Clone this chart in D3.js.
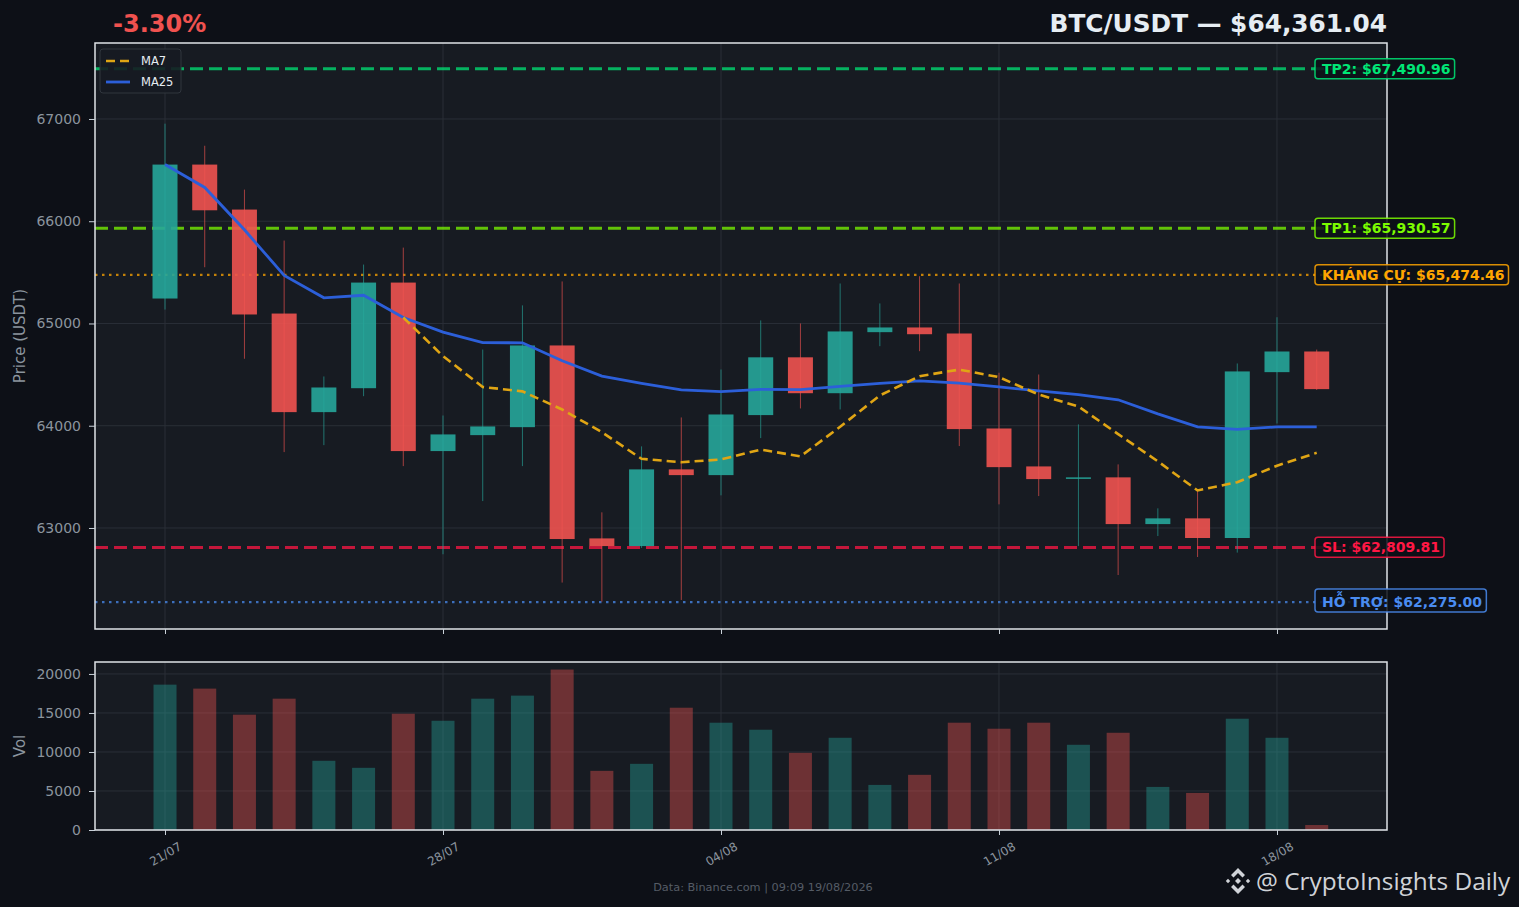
<!DOCTYPE html>
<html>
<head>
<meta charset="utf-8">
<script src="https://cdn.jsdelivr.net/npm/d3@7"></script>
<style>
  body { margin: 0; background: #0d1017; }
  svg { display: block; font-family: "DejaVu Sans", sans-serif; }
</style>
</head>
<body>
<div class="board"></div>
<script>
// daily candles, 21/07 -> 19/08
var dates = ['2026-07-21','2026-07-22','2026-07-23','2026-07-24','2026-07-25','2026-07-26','2026-07-27',
  '2026-07-28','2026-07-29','2026-07-30','2026-07-31','2026-08-01','2026-08-02','2026-08-03',
  '2026-08-04','2026-08-05','2026-08-06','2026-08-07','2026-08-08','2026-08-09','2026-08-10',
  '2026-08-11','2026-08-12','2026-08-13','2026-08-14','2026-08-15','2026-08-16','2026-08-17',
  '2026-08-18','2026-08-19'];

var opens  = [65244, 66554, 66114, 65097, 64133, 64367, 65400, 63752, 63908, 63986, 64785, 62898, 62823, 63573,
  63517, 64104, 64669, 64318, 64915, 64961, 64902, 63973, 63602, 63480, 63495, 63038, 63094, 62902, 64524, 64726];
var highs  = [66954, 66738, 66309, 65811, 64482, 65576, 65742, 64100, 64745, 65177, 65411, 63153, 63798, 64081,
  64550, 65030, 65000, 65391, 65196, 65462, 65391, 64518, 64501, 64013, 63622, 63192, 63361, 64609, 65061, 64745];
var lows   = [65136, 65550, 64655, 63742, 63810, 64289, 63605, 62743, 63263, 63605, 62466, 62280, 62805, 62296,
  63319, 63879, 64169, 64159, 64778, 64729, 63801, 63231, 63312, 62823, 62540, 62921, 62716, 62759, 64022, 64350];
var closes = [66554, 66107, 65088, 64133, 64374, 65400, 63752, 63915, 63993, 64785, 62892, 62823, 63573, 63517,
  64110, 64669, 64318, 64922, 64961, 64895, 63967, 63595, 63478, 63495, 63038, 63094, 62902, 64531, 64726, 64358];
var volumes = [18630, 18120, 14780, 16830, 8870, 7970, 14900, 14000, 16830, 17220, 20560, 7580, 8480, 15670,
  13750, 12850, 9890, 11820, 5780, 7070, 13750, 12980, 13750, 10920, 12460, 5520, 4750, 14260, 11820, 640];

// moving averages (MA7 starts on the 7th candle)
var ma7 = [null, null, null, null, null, null, 65058, 64681, 64379, 64336, 64159, 63937, 63676, 63643,
  63670, 63767, 63700, 63990, 64296, 64485, 64549, 64475, 64305, 64188, 63918, 63652, 63367, 63448, 63609, 63735];
var ma25 = [66554, 66330, 65916, 65470, 65251, 65276, 65058, 64915, 64813, 64811, 64636, 64485, 64415, 64350,
  64334, 64355, 64353, 64385, 64415, 64439, 64417, 64379, 64340, 64305, 64254, 64116, 63988, 63965, 63989, 63988];

// trade levels
var levelNames  = ['TP2', 'TP1', 'KHÁNG CỰ', 'SL', 'HỖ TRỢ'];
var levelValues = [67490.96, 65930.57, 65474.46, 62809.81, 62275.00];

var priceTicks = [63000, 64000, 65000, 66000, 67000];
var volTicks = [0, 5000, 10000, 15000, 20000];
var dateTicks = ['2026-07-21', '2026-07-28', '2026-08-04', '2026-08-11', '2026-08-18'];

var lastPrice = '$64,361.04';
var changeText = '-3.30%';

var width = 1519;
var height = 907;

var svg = d3.select('.board').append('svg')
  .attr('width', width)
  .attr('height', height);

svg.append('rect').attr('width', width).attr('height', height).attr('fill', '#0d1017');

var parse = d3.utcParse('%Y-%m-%d');
var candles = dates.map(function(d, i) {
  return { date: parse(d), o: opens[i], h: highs[i], l: lows[i], c: closes[i], v: volumes[i], ma7: ma7[i], ma25: ma25[i] };
});

var day = 864e5;
var x = d3.scaleUtc()
  .domain([new Date(+candles[0].date - 1.763 * day), new Date(+candles[0].date + 30.77 * day)])
  .range([95, 1387]);

var y = d3.scaleLinear().domain([62012, 67743]).range([629, 43]);
var yv = d3.scaleLinear().domain([0, 21530]).range([830, 662]);

var green = '#26a69a', red = '#ef5350';
var gridColor = '#2a2f37', tickColor = '#8b949e';
var fmtTick = d3.utcFormat('%d/%m');

// panels
var price = svg.append('g');
var vol = svg.append('g');

price.append('rect').attr('x', 95).attr('y', 43).attr('width', 1292).attr('height', 586).attr('fill', '#171b22');
vol.append('rect').attr('x', 95).attr('y', 662).attr('width', 1292).attr('height', 168).attr('fill', '#171b22');

// grid
var drawGrid = function(g, ys, scale, top, bottom) {
  g.selectAll('.hgrid').data(ys).enter().append('line')
    .attr('x1', 95).attr('x2', 1387)
    .attr('y1', function(d) { return scale(d); }).attr('y2', function(d) { return scale(d); })
    .attr('stroke', gridColor).attr('stroke-width', 1);
  g.selectAll('.vgrid').data(dateTicks).enter().append('line')
    .attr('x1', function(d) { return x(parse(d)); }).attr('x2', function(d) { return x(parse(d)); })
    .attr('y1', top).attr('y2', bottom)
    .attr('stroke', gridColor).attr('stroke-width', 1);
};
drawGrid(price, priceTicks, y, 43, 629);
drawGrid(vol, volTicks, yv, 662, 830);

// level lines (drawn under candles)
var levelColors = ['#00e676', '#7cfc00', '#ffa500', '#ff1744', '#4a8cf0'];
var levelDash = ['13,6', '13,6', '2.5,4.5', '13,6', '2.5,4.5'];
var levelWidth = [3, 3, 2.2, 3, 2.2];

price.selectAll('.level').data(levelValues).enter().append('line')
  .attr('x1', 95).attr('x2', 1387)
  .attr('y1', function(d) { return y(d); }).attr('y2', function(d) { return y(d); })
  .attr('stroke', function(d, i) { return levelColors[i]; })
  .attr('stroke-opacity', 0.75)
  .attr('stroke-width', function(d, i) { return levelWidth[i]; })
  .attr('stroke-dasharray', function(d, i) { return levelDash[i]; });

// candles
var bodyW = 25;
var c = price.selectAll('.candle').data(candles).enter().append('g');

c.append('line')
  .attr('x1', function(d) { return x(d.date); }).attr('x2', function(d) { return x(d.date); })
  .attr('y1', function(d) { return y(d.h); }).attr('y2', function(d) { return y(d.l); })
  .attr('stroke', function(d) { return d.c >= d.o ? green : red; })
  .attr('stroke-opacity', 0.65)
  .attr('stroke-width', 1);

c.append('rect')
  .attr('x', function(d) { return x(d.date) - bodyW / 2; })
  .attr('width', bodyW)
  .attr('y', function(d) { return y(Math.max(d.o, d.c)); })
  .attr('height', function(d) { return Math.max(1.5, Math.abs(y(d.o) - y(d.c))); })
  .attr('fill', function(d) { return d.c >= d.o ? green : red; })
  .attr('fill-opacity', 0.9);

// moving averages
var maLine = function(key) {
  return d3.line()
    .defined(function(d) { return d[key] != null; })
    .x(function(d) { return x(d.date); })
    .y(function(d) { return y(d[key]); });
};

price.append('path').datum(candles).attr('d', maLine('ma25'))
  .attr('fill', 'none').attr('stroke', '#2c5fd9').attr('stroke-width', 2.8);
price.append('path').datum(candles).attr('d', maLine('ma7'))
  .attr('fill', 'none').attr('stroke', '#e0a514').attr('stroke-width', 2.6)
  .attr('stroke-dasharray', '9,5');

// volume bars
vol.selectAll('.bar').data(candles).enter().append('rect')
  .attr('x', function(d) { return x(d.date) - 11.5; })
  .attr('width', 23)
  .attr('y', function(d) { return yv(d.v); })
  .attr('height', function(d) { return yv(0) - yv(d.v); })
  .attr('fill', function(d) { return d.c >= d.o ? green : red; })
  .attr('fill-opacity', 0.4);

// frames
[[43, 586], [662, 168]].forEach(function(p) {
  svg.append('rect').attr('x', 95).attr('y', p[0]).attr('width', 1292).attr('height', p[1])
    .attr('fill', 'none').attr('stroke', '#dfe3e8').attr('stroke-width', 1.5);
});

// axes
var styleAxis = function(g) {
  g.select('.domain').remove();
  g.selectAll('.tick line').attr('stroke', '#c9d1d9');
  g.selectAll('.tick text').attr('fill', tickColor).attr('font-family', 'DejaVu Sans');
};

svg.append('g').attr('transform', 'translate(95,0)')
  .call(d3.axisLeft(y).tickValues(priceTicks).tickSize(6).tickPadding(8).tickFormat(d3.format('d')))
  .call(styleAxis).selectAll('text').attr('font-size', 14);

svg.append('g').attr('transform', 'translate(95,0)')
  .call(d3.axisLeft(yv).tickValues(volTicks).tickSize(6).tickPadding(8).tickFormat(d3.format('d')))
  .call(styleAxis).selectAll('text').attr('font-size', 14);

svg.append('g').attr('transform', 'translate(0,629)')
  .call(d3.axisBottom(x).tickValues(dateTicks.map(parse)).tickSize(5).tickFormat(''))
  .call(styleAxis);

var xAxis = svg.append('g').attr('transform', 'translate(0,830)')
  .call(d3.axisBottom(x).tickValues(dateTicks.map(parse)).tickSize(5).tickFormat(fmtTick))
  .call(styleAxis);

// labels centred under each tick, tilted 30 degrees
xAxis.selectAll('.tick text')
  .attr('font-size', 12)
  .attr('text-anchor', 'middle')
  .attr('y', 0).attr('dy', '0.35em')
  .attr('transform', 'translate(0,24) rotate(-30)');

svg.append('text').attr('transform', 'translate(25,336) rotate(-90)')
  .attr('text-anchor', 'middle').attr('fill', tickColor).attr('font-size', 15).text('Price (USDT)');
svg.append('text').attr('transform', 'translate(25,746) rotate(-90)')
  .attr('text-anchor', 'middle').attr('fill', tickColor).attr('font-size', 15).text('Vol');

// level labels on the right edge
var fmtPrice = d3.format(',.2f');
var labels = svg.selectAll('.lvl').data(levelValues).enter().append('g')
  .attr('transform', function(d) { return 'translate(1322,' + y(d) + ')'; });

labels.append('text')
  .attr('dy', '0.35em')
  .attr('font-size', 14).attr('font-weight', 'bold')
  .attr('fill', function(d, i) { return levelColors[i]; })
  .text(function(d, i) { return levelNames[i] + ': $' + fmtPrice(d); });

labels.each(function(d, i) {
  var g = d3.select(this);
  var bb = g.select('text').node().getBBox();
  g.insert('rect', 'text')
    .attr('x', bb.x - 7).attr('y', bb.y - 2)
    .attr('width', bb.width + 11).attr('height', bb.height + 4)
    .attr('rx', 3)
    .attr('fill', '#0d1117').attr('fill-opacity', 0.85)
    .attr('stroke', levelColors[i]).attr('stroke-width', 1.5).attr('stroke-opacity', 0.85);
});

// legend
var legend = svg.append('g').attr('transform', 'translate(100,49)');
legend.append('rect').attr('width', 81).attr('height', 44).attr('rx', 3)
  .attr('fill', '#161b22').attr('fill-opacity', 0.9).attr('stroke', '#30363d');
legend.append('line').attr('x1', 6).attr('x2', 30).attr('y1', 12).attr('y2', 12)
  .attr('stroke', '#e0a514').attr('stroke-width', 2.5).attr('stroke-dasharray', '9,5');
legend.append('line').attr('x1', 6).attr('x2', 30).attr('y1', 33).attr('y2', 33)
  .attr('stroke', '#2c5fd9').attr('stroke-width', 2.8);
legend.append('text').attr('x', 41).attr('y', 16).attr('fill', '#e6edf3').attr('font-size', 11.5).text('MA7');
legend.append('text').attr('x', 41).attr('y', 37).attr('fill', '#e6edf3').attr('font-size', 11.5).text('MA25');

// titles
svg.append('text').attr('x', 113).attr('y', 32)
  .attr('fill', '#f0524f').attr('font-size', 24).attr('font-weight', 'bold').text(changeText);
svg.append('text').attr('x', 1387).attr('y', 32).attr('text-anchor', 'end')
  .attr('fill', '#e6edf3').attr('font-size', 24.8).attr('font-weight', 'bold').text('BTC/USDT — ' + lastPrice);

// footer
svg.append('text').attr('x', 763).attr('y', 891).attr('text-anchor', 'middle')
  .attr('fill', '#555c66').attr('font-size', 11.3).text('Data: Binance.com | 09:09 19/08/2026');

// watermark with a small diamond logo
var wm = svg.append('g').attr('transform', 'translate(1238,881)').attr('fill', '#d0d3d8');
var dia = function(cx, cy, r) {
  return 'M' + cx + ',' + (cy - r) + 'L' + (cx + r) + ',' + cy + 'L' + cx + ',' + (cy + r) + 'L' + (cx - r) + ',' + cy + 'Z';
};
wm.append('path').attr('d', dia(0, 0, 3));
wm.append('path').attr('d', dia(-10, 0, 2.2));
wm.append('path').attr('d', dia(10, 0, 2.2));
wm.append('path').attr('d', 'M0,-13L7,-6L4.5,-3.5L0,-8L-4.5,-3.5L-7,-6Z');
wm.append('path').attr('d', 'M0,13L7,6L4.5,3.5L0,8L-4.5,3.5L-7,6Z');
wm.append('text').attr('x', 18).attr('y', 9).attr('font-family', '"Open Sans", "Noto Sans", sans-serif')
  .attr('font-size', 24.4).text('@ CryptoInsights Daily');
</script>
</body>
</html>
